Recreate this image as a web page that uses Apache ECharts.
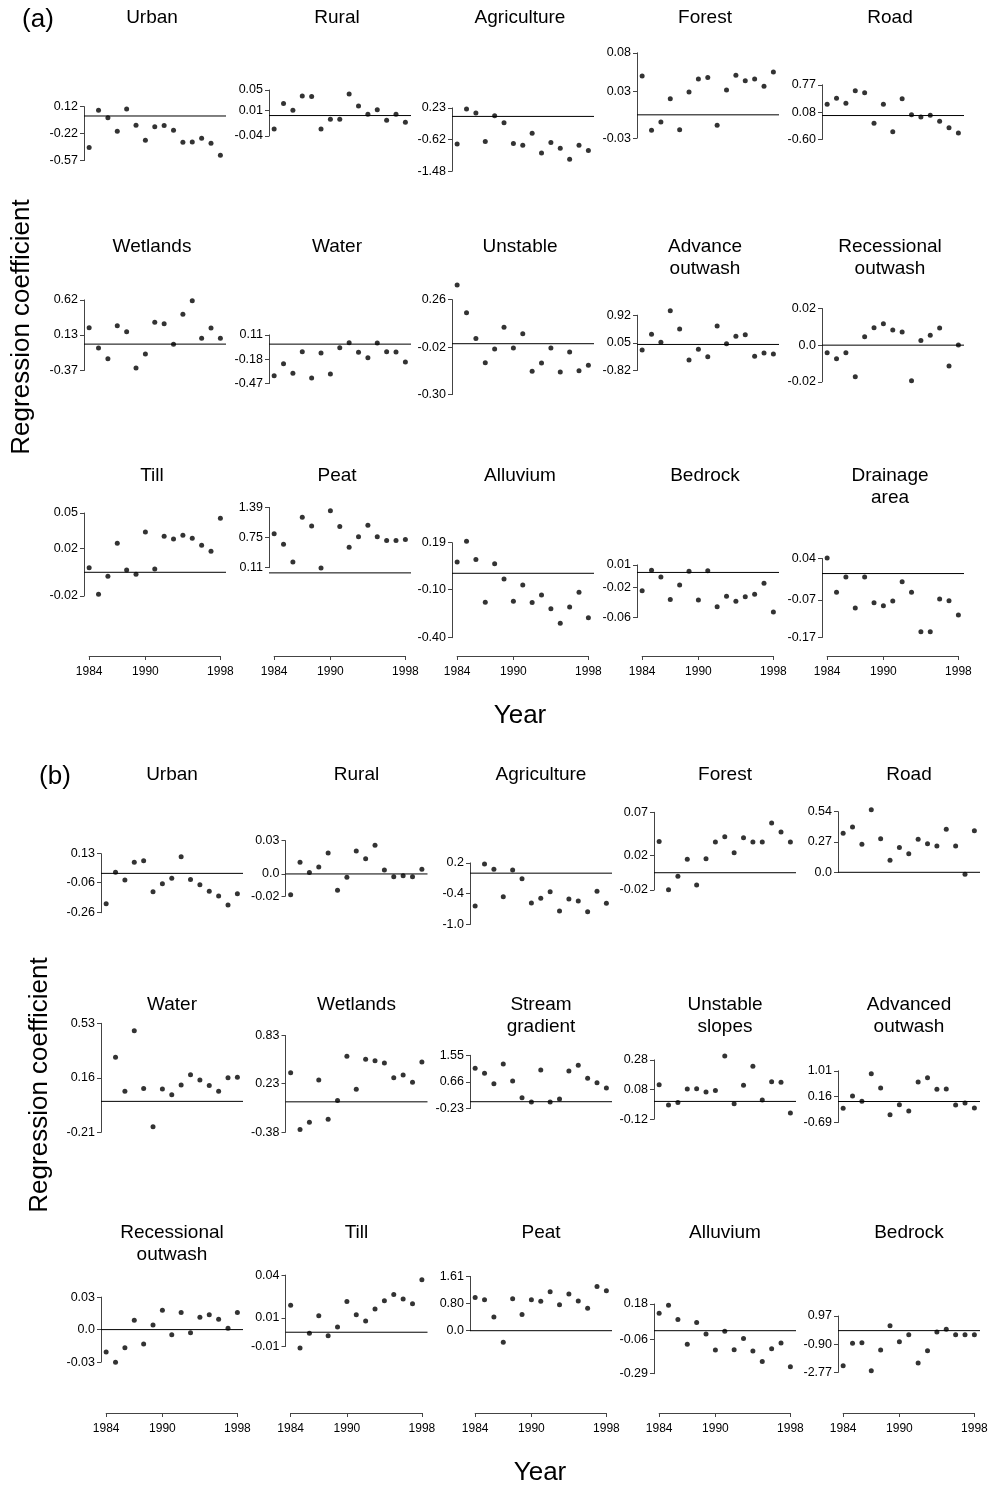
<!DOCTYPE html>
<html><head><meta charset="utf-8">
<script src="https://cdn.jsdelivr.net/npm/echarts@6/dist/echarts.min.js"></script>
<style>html,body{margin:0;padding:0;background:#fff}#c{width:993px;height:1486px}</style>
</head><body><div id="c"></div><script>
// ---------------- DATA ----------------
const years = [1984,1985,1986,1987,1988,1989,1990,1991,1992,1993,1994,1995,1996,1997,1998];
const yearTicks = [1984, 1990, 1998];

// Panel (a)
const aTitles = ['Urban','Rural','Agriculture','Forest','Road','Wetlands','Water','Unstable','Advance\noutwash','Recessional\noutwash','Till','Peat','Alluvium','Bedrock','Drainage\narea'];
const aTickLabels = [
  ['0.12','-0.22','-0.57'], ['0.05','0.01','-0.04'], ['0.23','-0.62','-1.48'], ['0.08','0.03','-0.03'], ['0.77','0.08','-0.60'],
  ['0.62','0.13','-0.37'], ['0.11','-0.18','-0.47'], ['0.26','-0.02','-0.30'], ['0.92','0.05','-0.82'], ['0.02','0.0','-0.02'],
  ['0.05','0.02','-0.02'], ['1.39','0.75','0.11'], ['0.19','-0.10','-0.40'], ['0.01','-0.02','-0.06'], ['0.04','-0.07','-0.17']
];
const aUrban = [-0.404, 0.073, -0.021, -0.195, 0.090, -0.119, -0.310, -0.136, -0.123, -0.183, -0.336, -0.332, -0.285, -0.349, -0.502];
const aRural = [-0.0262, 0.0234, 0.0103, 0.0384, 0.0371, -0.0262, -0.0073, -0.0073, 0.0423, 0.0188, 0.0025, 0.0116, -0.0093, 0.0025, -0.0132];
const aAgriculture = [-0.744, 0.201, 0.093, -0.681, 0.021, -0.168, -0.735, -0.780, -0.456, -0.987, -0.708, -0.861, -1.158, -0.780, -0.924];
const aForest = [0.0501, -0.0199, -0.0092, 0.0209, -0.0191, 0.0295, 0.0462, 0.0480, -0.0135, 0.0321, 0.0510, 0.0441, 0.0462, 0.0368, 0.0553];
const aRoad = [0.281, 0.431, 0.306, 0.623, 0.573, -0.195, 0.281, -0.404, 0.423, 0.022, -0.037, 0.005, -0.145, -0.304, -0.438];
const aWetlands = [0.231, -0.054, -0.204, 0.259, 0.175, -0.334, -0.138, 0.305, 0.287, -0.003, 0.418, 0.609, 0.081, 0.226, 0.081];
const aWater = [-0.376, -0.233, -0.348, -0.090, -0.404, -0.106, -0.356, -0.042, 0.017, -0.098, -0.161, 0.014, -0.090, -0.094, -0.213];
const aUnstable = [0.346, 0.183, 0.030, -0.112, -0.031, 0.097, -0.025, 0.059, -0.163, -0.114, -0.025, -0.167, -0.049, -0.159, -0.127];
const aAdvanceOutwash = [-0.174, 0.319, 0.067, 1.063, 0.486, -0.488, -0.153, -0.384, 0.581, 0.025, 0.256, 0.308, -0.373, -0.268, -0.300];
const aRecessionalOutwash = [-0.0041, -0.0074, -0.0041, -0.0172, 0.0046, 0.0095, 0.0117, 0.0083, 0.0072, -0.0194, 0.0025, 0.0054, 0.0094, -0.0114, 0.0001];
const aTill = [0.0039, -0.0186, -0.0034, 0.0244, 0.0019, -0.0017, 0.0340, 0.0028, 0.0303, 0.0281, 0.0312, 0.0286, 0.0227, 0.0177, 0.0455];
const aPeat = [0.833, 0.607, 0.232, 1.180, 0.996, 0.105, 1.321, 0.982, 0.543, 0.769, 1.010, 0.769, 0.685, 0.685, 0.706];
const aAlluvium = [0.070, 0.199, 0.085, -0.180, 0.060, -0.035, -0.174, -0.073, -0.182, -0.135, -0.220, -0.311, -0.209, -0.118, -0.276];
const aBedrock = [-0.0242, 0.0028, -0.0061, -0.0358, -0.0167, 0.0015, -0.0366, 0.0023, -0.0455, -0.0318, -0.0384, -0.0322, -0.0291, -0.0145, -0.0526];
const aDrainageArea = [0.0413, -0.0500, -0.0092, -0.0916, -0.0092, -0.0774, -0.0854, -0.0730, -0.0216, -0.0500, -0.1545, -0.1545, -0.0677, -0.0721, -0.1102];

// Panel (b)
const bTitles = ['Urban','Rural','Agriculture','Forest','Road','Water','Wetlands','Stream\ngradient','Unstable\nslopes','Advanced\noutwash','Recessional\noutwash','Till','Peat','Alluvium','Bedrock'];
const bTickLabels = [
  ['0.13','-0.06','-0.26'], ['0.03','0.0','-0.02'], ['0.2','-0.4','-1.0'], ['0.07','0.02','-0.02'], ['0.54','0.27','0.0'],
  ['0.53','0.16','-0.21'], ['0.83','0.23','-0.38'], ['1.55','0.66','-0.23'], ['0.28','0.08','-0.12'], ['1.01','0.16','-0.69'],
  ['0.03','0.0','-0.03'], ['0.04','0.01','-0.01'], ['1.61','0.80','0.0'], ['0.18','-0.06','-0.29'], ['0.97','-0.90','-2.77']
];
const bUrban = [-0.201, 0.007, -0.044, 0.073, 0.084, -0.121, -0.068, -0.033, 0.110, -0.040, -0.075, -0.119, -0.150, -0.209, -0.134];
const bRural = [-0.0187, 0.0105, 0.0014, 0.0063, 0.0189, -0.0148, -0.0031, 0.0207, 0.0138, 0.0258, 0.0036, -0.0025, -0.0016, -0.0025, 0.0042];
const bAgriculture = [-0.639, 0.178, 0.074, -0.458, 0.061, -0.108, -0.581, -0.490, -0.361, -0.737, -0.503, -0.542, -0.750, -0.354, -0.588];
const bForest = [0.0363, -0.0197, -0.0042, 0.0155, -0.0143, 0.0163, 0.0356, 0.0418, 0.0232, 0.0406, 0.0356, 0.0356, 0.0576, 0.0472, 0.0356];
const bRoad = [0.347, 0.404, 0.249, 0.558, 0.300, 0.107, 0.220, 0.166, 0.294, 0.255, 0.234, 0.383, 0.234, -0.018, 0.371];
const bWater = [null, 0.299, 0.068, 0.480, 0.088, -0.172, 0.084, 0.045, 0.111, 0.181, 0.145, 0.107, 0.068, 0.161, 0.163];
const bWetlands = [0.365, -0.345, -0.257, 0.273, -0.219, 0.018, 0.569, 0.156, 0.532, 0.515, 0.486, 0.302, 0.335, 0.244, 0.498];
const bStreamGradient = [1.115, 0.948, 0.603, 1.259, 0.692, 0.136, -0.009, 1.059, -0.009, 0.091, 1.026, 1.215, 0.781, 0.636, 0.458];
const bUnstableSlopes = [0.113, -0.024, -0.008, 0.084, 0.086, 0.064, 0.073, 0.306, -0.015, 0.109, 0.237, 0.010, 0.133, 0.129, -0.078];
const bAdvancedOutwash = [-0.224, 0.182, 0.007, 0.917, 0.445, -0.432, -0.103, -0.311, 0.643, 0.785, 0.401, 0.412, -0.114, -0.048, -0.213];
const bRecessionalOutwash = [-0.0207, -0.0302, -0.0167, 0.0086, -0.0133, 0.0042, 0.0178, -0.0047, 0.0159, -0.0028, 0.0113, 0.0138, 0.0095, 0.0012, 0.0159];
const bTill = [0.0188, -0.0111, -0.0008, 0.0116, -0.0024, 0.0036, 0.0216, 0.0123, 0.0079, 0.0163, 0.0221, 0.0265, 0.0233, 0.0200, 0.0368];
const bPeat = [0.988, 0.919, 0.405, -0.346, 0.949, 0.484, 0.919, 0.870, 1.156, 0.771, 1.087, 0.879, 0.662, 1.314, 1.186];
const bAlluvium = [0.117, 0.171, 0.076, -0.092, 0.056, -0.022, -0.130, -0.004, -0.128, -0.052, -0.137, -0.207, -0.121, -0.083, -0.243];
const bBedrock = [-2.326, -0.843, -0.799, -2.658, -1.286, 0.330, -0.732, -0.268, -2.149, -1.330, -0.091, 0.086, -0.268, -0.268, -0.268];

const aSeries = [aUrban, aRural, aAgriculture, aForest, aRoad, aWetlands, aWater, aUnstable, aAdvanceOutwash, aRecessionalOutwash, aTill, aPeat, aAlluvium, aBedrock, aDrainageArea];
const bSeries = [bUrban, bRural, bAgriculture, bForest, bRoad, bWater, bWetlands, bStreamGradient, bUnstableSlopes, bAdvancedOutwash, bRecessionalOutwash, bTill, bPeat, bAlluvium, bBedrock];

// ---------------- LAYOUT ----------------
const FONT = '"Liberation Sans", Arial, Helvetica, sans-serif';
const W = 142, XMIN = 1983.45, XMAX = 1998.6;
const PPY = W / (XMAX - XMIN);
const aColX = [84, 269, 452, 637, 822];
const bColX = [101, 285.5, 470, 654, 838];
const aTop = [106.6, 90.0, 107.9, 52.8, 84.8, 299.9, 334.9, 299.6, 315.2, 308.5, 513, 507.4, 542.7, 564.9, 558.5];
const aBot = [160.6, 136.0, 171.2, 138.1, 139.5, 370.5, 383.6, 394.6, 370.5, 381.8, 596, 567.7, 637.7, 617.6, 637.5];
const bTop = [853.7, 840.7, 862.9, 812.3, 811.7, 1023.3, 1035.5, 1055.3, 1059.9, 1070.8, 1297.1, 1275.1, 1276.4, 1304, 1316];
const bBot = [912.7, 896.1, 924.5, 890, 872.3, 1132.3, 1132.2, 1108.6, 1119.2, 1122.5, 1362.1, 1346.5, 1330.7, 1373.7, 1372.4];
const aTitleY = [18, 247, 476];
const bTitleY = [775, 1005, 1233];
const aAxisY = 656, bAxisY = 1413;

const option = {animation:false, backgroundColor:'#fff', grid:[], xAxis:[], yAxis:[], series:[], graphic:[]};

function text(x, y, str, size, extra) {
  option.graphic.push(Object.assign({type:'text', x:x, y:y, silent:true,
    style:{text:str, fill:'#000', font: size + 'px ' + FONT, textAlign:'center', textVerticalAlign:'middle'}}, extra || {}));
}

function addPanel(X, top, bot, labels, vals, title, titleX, titleY) {
  const gi = option.grid.length;
  const tv = labels.map(Number);
  option.grid.push({left:X, top:top, width:W, height:bot-top, containLabel:false, outerBoundsMode:'none'});
  option.xAxis.push({gridIndex:gi, type:'value', min:XMIN, max:XMAX, show:false});
  option.yAxis.push({gridIndex:gi, type:'value', min:Math.min(...tv), max:Math.max(...tv),
    axisLine:{show:true, onZero:false, lineStyle:{color:'#444', width:1}},
    axisTick:{show:true, length:4, customValues:tv, lineStyle:{color:'#444', width:1}},
    axisLabel:{show:true, customValues:tv, margin:6, color:'#000', fontSize:12.5, fontFamily:FONT,
      formatter: function(v){ let b=0; tv.forEach((t,i)=>{ if(Math.abs(t-v)<Math.abs(tv[b]-v)) b=i; }); return labels[b]; }},
    splitLine:{show:false}});
  option.series.push({type:'line', xAxisIndex:gi, yAxisIndex:gi, data:[[XMIN,0],[XMAX,0]], symbol:'none', showSymbol:false,
    clip:false, silent:true, lineStyle:{color:'#000', width:1}});
  option.series.push({type:'scatter', xAxisIndex:gi, yAxisIndex:gi,
    data: years.map((y,j)=> vals[j]==null ? null : [y, vals[j]]).filter(Boolean),
    symbolSize:5, itemStyle:{color:'#000'}, clip:false, silent:true});
  option.graphic.push({type:'text', x:titleX, y:titleY - 11, silent:true,
    style:{text:title, fill:'#000', font:'19px ' + FONT, textAlign:'center', textVerticalAlign:'top', lineHeight:22}});
}

function addBottomAxis(X, y) {
  const gi = option.grid.length;
  const left = X + (1984 - XMIN) * PPY, width = 14 * PPY;
  option.grid.push({left:left, top:y-10, width:width, height:10, containLabel:false, outerBoundsMode:'none'});
  option.xAxis.push({gridIndex:gi, type:'value', min:1984, max:1998, position:'bottom',
    axisLine:{show:true, onZero:false, lineStyle:{color:'#444', width:1}},
    axisTick:{show:true, length:4, customValues:yearTicks, lineStyle:{color:'#444', width:1}},
    axisLabel:{show:true, customValues:yearTicks, margin:10, color:'#000', fontSize:12, fontFamily:FONT,
      formatter: v => String(Math.round(v))},
    splitLine:{show:false}});
  option.yAxis.push({gridIndex:gi, type:'value', min:0, max:1, show:false});
}

for (let i = 0; i < 15; i++) {
  const r = Math.floor(i / 5), c = i % 5;
  addPanel(aColX[c], aTop[i], aBot[i], aTickLabels[i], aSeries[i], aTitles[i], aColX[c] + 68, aTitleY[r]);
  addPanel(bColX[c], bTop[i], bBot[i], bTickLabels[i], bSeries[i], bTitles[i], bColX[c] + 71, bTitleY[r]);
}
for (let c = 0; c < 5; c++) {
  addBottomAxis(aColX[c], aAxisY);
  addBottomAxis(bColX[c], bAxisY);
}

text(38, 20, '(a)', 26);
text(55, 777, '(b)', 26);
text(520, 716, 'Year', 26);
text(540, 1473, 'Year', 26);
text(22, 327, 'Regression coefficient', 26, {rotation: Math.PI / 2});
text(40, 1085, 'Regression coefficient', 26, {rotation: Math.PI / 2});

const chart = echarts.init(document.getElementById('c'), null, {renderer:'canvas', width:993, height:1486});
chart.setOption(option);
</script></body></html>
